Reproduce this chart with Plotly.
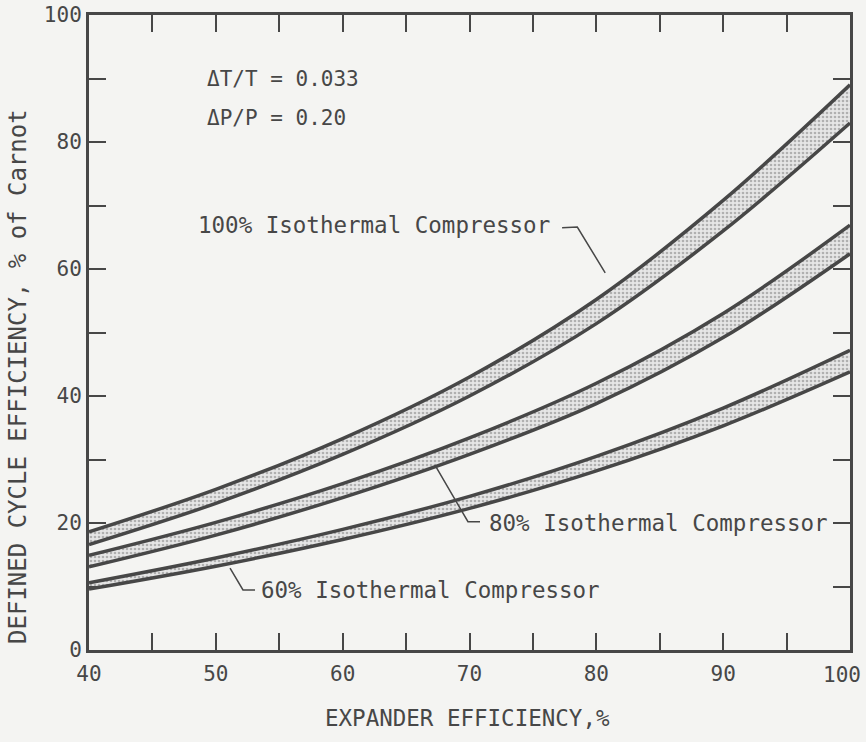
import plotly.graph_objects as go

# ---- data ----
expander_eff = [40, 50, 60, 70, 80, 90, 100]
iso100_upper = [18.6, 25.3, 33.3, 43.0, 55.2, 70.8, 89.0]
iso100_lower = [16.6, 23.1, 30.8, 40.0, 51.4, 66.0, 83.0]
iso80_upper = [14.9, 20.1, 26.2, 33.4, 42.0, 53.0, 66.9]
iso80_lower = [13.1, 18.1, 24.0, 30.8, 38.8, 49.2, 62.4]
iso60_upper = [10.6, 14.5, 19.0, 24.2, 30.5, 38.1, 47.2]
iso60_lower = [9.6, 13.2, 17.4, 22.3, 28.2, 35.3, 43.8]

band_labels = ["100% Isothermal Compressor", "80% Isothermal Compressor", "60% Isothermal Compressor"]
x_tick_vals = [40, 50, 60, 70, 80, 90, 100]
y_tick_vals = [0, 20, 40, 60, 80, 100]

# label anchors (data coords) and leader-line paths
label_pos = [(48.44, 66.9), (71.38, 20.0), (53.4, 9.45)]
leader_x = [[77.3, 78.5, 80.7], [67.28, 69.88, 70.83], [51.12, 52.14, 53.09]]
leader_y = [[66.5, 66.6, 59.4], [29.1, 20.2, 20.2], [12.9, 9.45, 9.45]]

FONT = "DejaVu Sans Mono"
INK = "#474747"
BG = "#f4f4f2"

fig = go.Figure()
bands = [(iso100_lower, iso100_upper), (iso80_lower, iso80_upper), (iso60_lower, iso60_upper)]
for lo, hi in bands:
    fig.add_trace(go.Scatter(x=expander_eff, y=lo, mode="lines",
                             line=dict(color=INK, width=3.5, shape="spline", smoothing=1.0),
                             showlegend=False, hoverinfo="skip"))
    fig.add_trace(go.Scatter(x=expander_eff, y=hi, mode="lines", fill="tonexty",
                             fillcolor="#dcdcdc",
                             fillpattern=dict(shape=".", bgcolor="#e6e6e6", fgcolor="#7a7a7a",
                                              size=4, solidity=0.35),
                             line=dict(color=INK, width=3.5, shape="spline", smoothing=1.0),
                             showlegend=False, hoverinfo="skip"))

# leader lines
for lx, ly in zip(leader_x, leader_y):
    fig.add_trace(go.Scatter(x=lx, y=ly, mode="lines", line=dict(color=INK, width=1.5),
                             showlegend=False, hoverinfo="skip"))

# invisible trace for mirrored axes
fig.add_trace(go.Scatter(x=[40, 100], y=[0, 100], xaxis="x2", yaxis="y2", mode="markers",
                         marker=dict(opacity=0), showlegend=False, hoverinfo="skip"))

tickfont = dict(family=FONT, size=21, color=INK)
common = dict(showline=True, linecolor=INK, linewidth=3, showgrid=False, zeroline=False,
              ticks="inside", ticklen=17, tickwidth=2, tickcolor=INK, automargin=False)

fig.update_layout(
    width=866, height=742,
    margin=dict(l=89, r=16, t=15, b=92, autoexpand=False),
    paper_bgcolor=BG, plot_bgcolor=BG,
    xaxis=dict(range=[40, 100], tickvals=x_tick_vals,
               ticktext=[str(v) for v in x_tick_vals[:-1]] + [""], tickfont=tickfont,
               minor=dict(dtick=5, ticks="inside", ticklen=17, tickwidth=2, tickcolor=INK),
               ticklabelstandoff=3, **common),
    yaxis=dict(range=[0, 100], tickvals=y_tick_vals, tickfont=tickfont,
               minor=dict(dtick=10, ticks="inside", ticklen=17, tickwidth=2, tickcolor=INK),
               ticklabelstandoff=0, ticklabeloverflow="allow", **common),
    xaxis2=dict(range=[40, 100], overlaying="x", side="top", showticklabels=False,
                tickvals=x_tick_vals,
                minor=dict(dtick=5, ticks="inside", ticklen=17, tickwidth=2, tickcolor=INK),
                **common),
    yaxis2=dict(range=[0, 100], overlaying="y", side="right", showticklabels=False,
                tickvals=y_tick_vals,
                minor=dict(dtick=10, ticks="inside", ticklen=17, tickwidth=2, tickcolor=INK),
                **common),
)

# last x tick label, kept inside the page like the reference
fig.add_annotation(x=x_tick_vals[-1], y=0, xref="x", yref="y", text=str(x_tick_vals[-1]),
                   showarrow=False, xanchor="right", yanchor="top", xshift=13, yshift=-11,
                   font=tickfont)

txt = dict(family=FONT, size=22.5, color=INK)
for (ax, ay), label in zip(label_pos, band_labels):
    fig.add_annotation(x=ax, y=ay, xref="x", yref="y", text=label, showarrow=False,
                       xanchor="left", yanchor="middle", font=txt)

small = dict(family=FONT, size=21, color=INK)
fig.add_annotation(x=49.15, y=89.9, xref="x", yref="y", text="ΔT/T = 0.033", showarrow=False,
                   xanchor="left", yanchor="middle", font=small)
fig.add_annotation(x=49.15, y=83.8, xref="x", yref="y", text="ΔP/P = 0.20", showarrow=False,
                   xanchor="left", yanchor="middle", font=small)

fig.add_annotation(x=0.497, y=-0.107, xref="paper", yref="paper", text="EXPANDER EFFICIENCY,%",
                   showarrow=False, xanchor="center", yanchor="middle", font=txt)
fig.add_annotation(x=(18 - 89) / 761, y=0.43, xref="paper", yref="paper",
                   text="DEFINED CYCLE EFFICIENCY, % of Carnot", textangle=-90,
                   showarrow=False, xanchor="center", yanchor="middle",
                   font=dict(family=FONT, size=24, color=INK))

fig.write_html("out.html")
